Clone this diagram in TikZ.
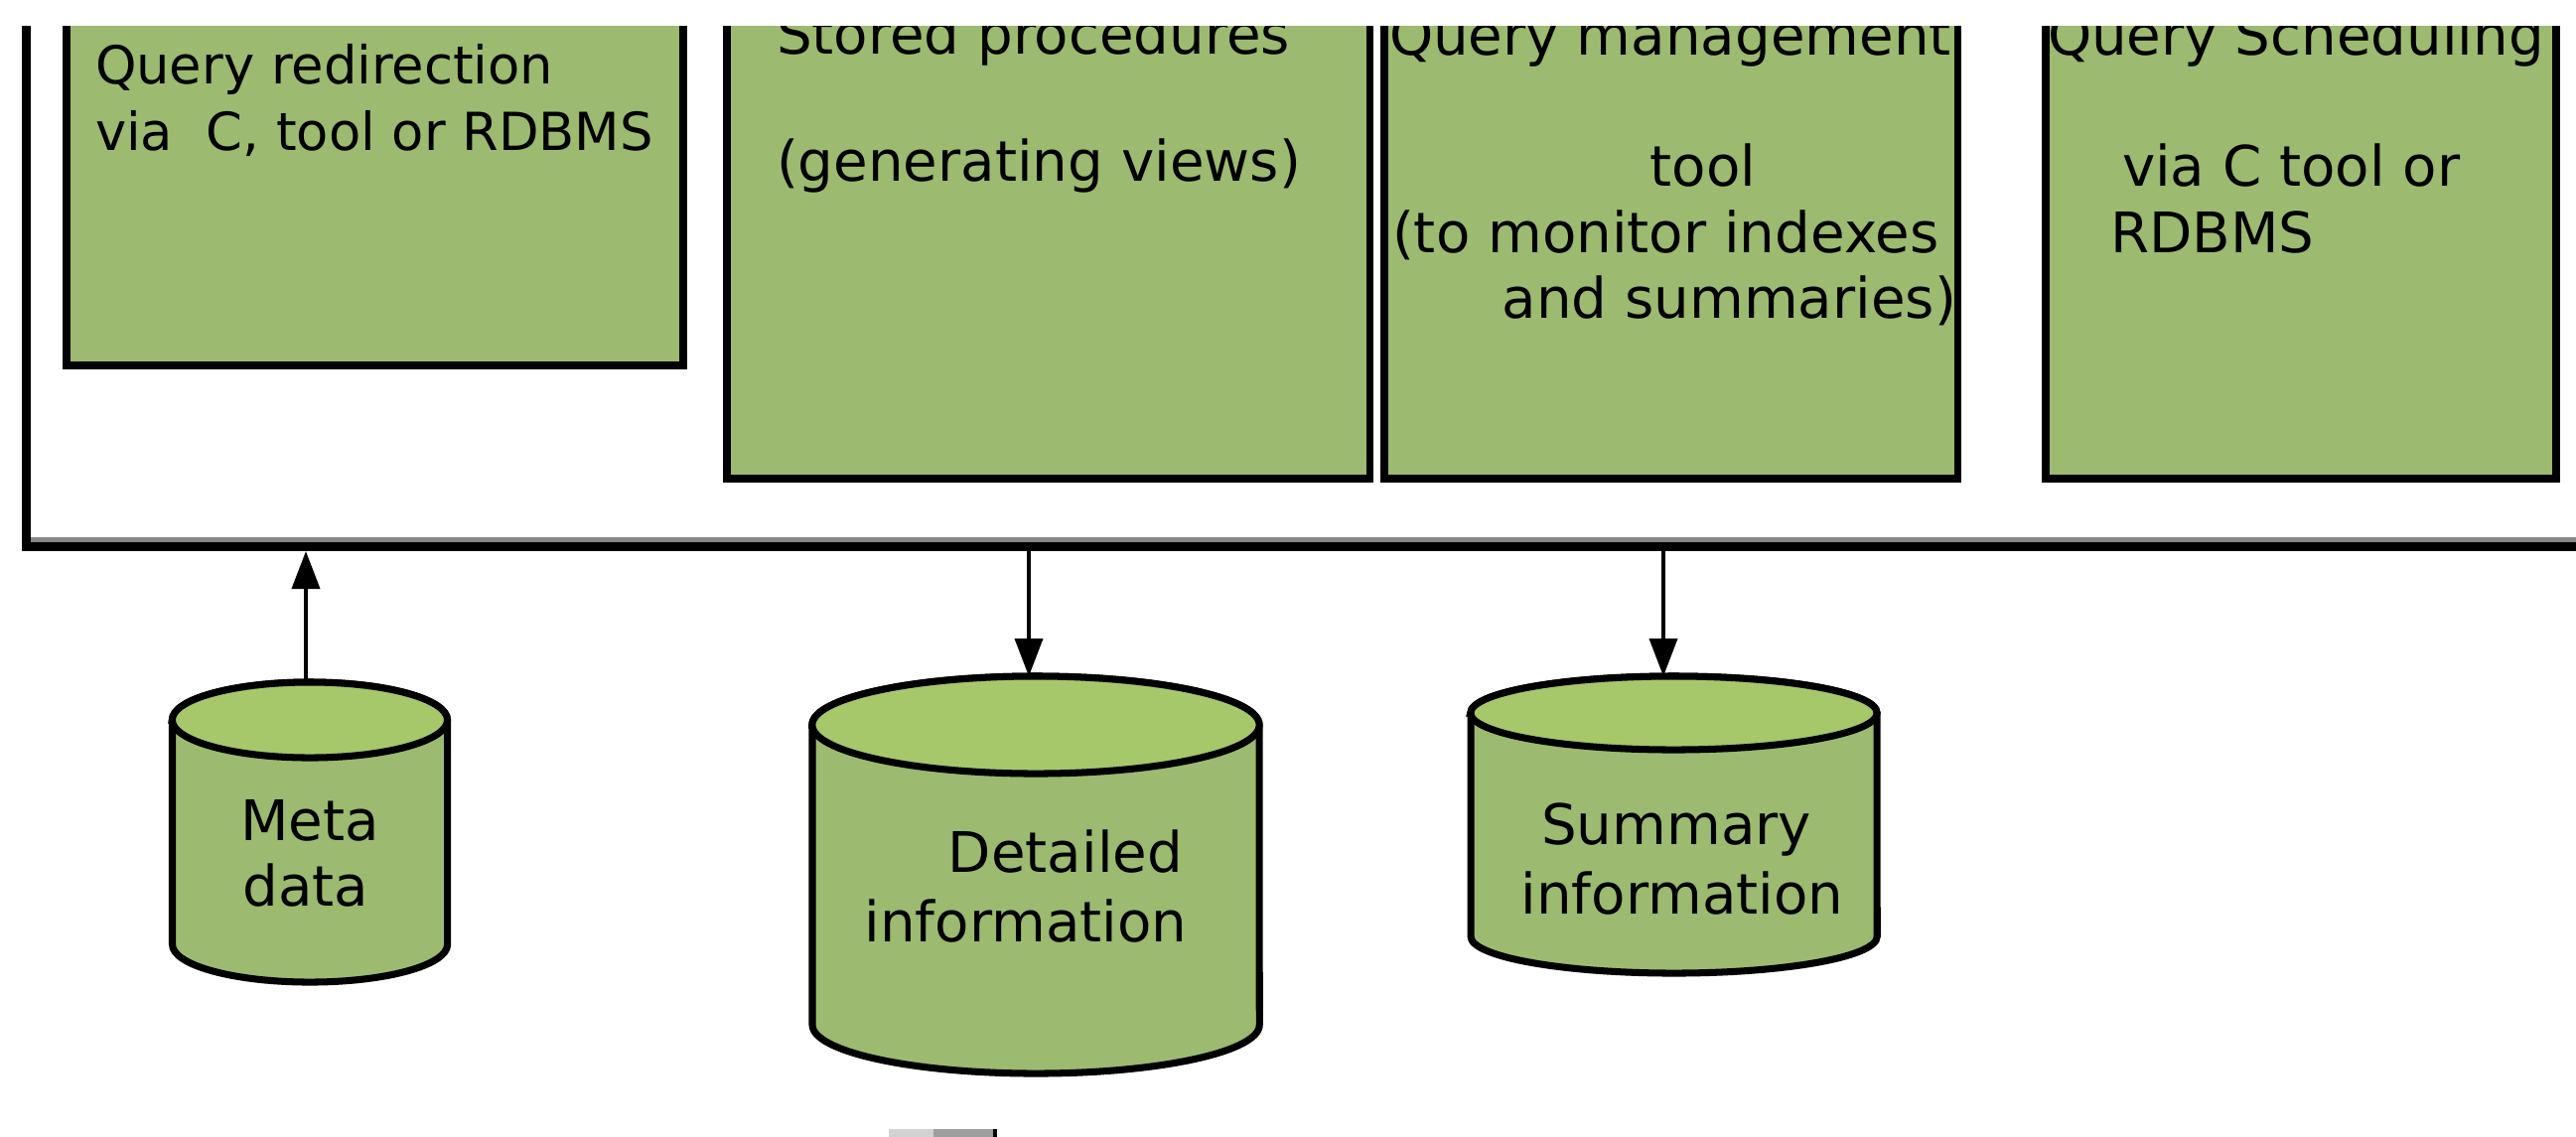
\documentclass[tikz,border=0pt]{standalone}
\usepackage{fontspec}
\setmainfont{DejaVu Sans}
\usetikzlibrary{arrows.meta}
\definecolor{boxgreen}{RGB}{156,186,112}
\definecolor{topgreen}{RGB}{166,199,106}
\definecolor{framegrey}{RGB}{135,135,135}
\begin{document}
\begin{tikzpicture}[x=0.01cm,y=-0.01cm,
  gbox/.style={draw=black, line width=2.1pt, fill=boxgreen, inner sep=0pt, outer sep=0pt},
  lbl/.style={inner sep=0pt, outer sep=0pt, font=\fontsize{16pt}{19pt}\selectfont, text=black},
  lblsmall/.style={lbl, font=\fontsize{15pt}{18pt}\selectfont},
  cylbody/.style={draw=black, line width=2pt, fill=boxgreen},
  cyltop/.style={draw=black, line width=2pt, fill=topgreen},
  arr/.style={line width=1.1pt, -{Triangle[length=3.8mm,width=2.8mm]}},
  framebk/.style={draw=black, line width=2.4pt, line join=miter},
  framegr/.style={draw=framegrey, line width=1.4pt}
]
\useasboundingbox (0,0) rectangle (2594,1144);
\fill[white] (0,0) rectangle (2594,1144);
\begin{scope}
\clip (0,26) rectangle (2594,1144);
% outer frame
\draw[framegr] (31,543.5) -- (2700,543.5);
\draw[framebk] (26.5,-60) -- (26.5,550.5) -- (2700,550.5);
% boxes
\node[gbox, minimum width=6.21cm, minimum height=4.08cm] (b1) at (377.5,164) {};
\node[gbox, minimum width=6.47cm, minimum height=5.22cm] (b2) at (1055.5,221) {};
\node[gbox, minimum width=5.77cm, minimum height=5.22cm] (b3) at (1682.5,221) {};
\node[gbox, minimum width=5.14cm, minimum height=5.22cm] (b4) at (2317,221) {};
% box texts
\node[lblsmall, anchor=base west] (q1) at (96,84) {Query redirection};
\node[lblsmall, anchor=base west] (q2) at (96,151) {via\ \ C, tool or RDBMS};
\node[lbl, anchor=base west] (s1) at (782,54) {Stored procedures};
\node[lbl, anchor=base west] (s2) at (782,182) {(generating views)};
\node[lbl, anchor=base west] (m1) at (1399,55) {Query management};
\node[lbl, anchor=base] (m2) at (1715,187) {tool};
\node[lbl, anchor=base west] (m3) at (1402,254) {(to monitor indexes};
\node[lbl, anchor=base east] (m4) at (1970,320) {and summaries)};
\node[lbl, anchor=base west] (c1) at (2062,55) {Query Scheduling};
\node[lbl, anchor=base west] (c2) at (2137,187) {via C tool or};
\node[lbl, anchor=base west] (c3) at (2125,254) {RDBMS};
% cylinders
\path[cylbody] (173.5,725) -- (173.5,951) arc[start angle=180,end angle=360,x radius=1.385cm,y radius=0.38cm] -- (450.5,725) arc[start angle=0,end angle=180,x radius=1.385cm,y radius=0.38cm] -- cycle;
\path[cyltop] (312,725) ellipse[x radius=1.385cm,y radius=0.38cm];
\path[cylbody] (818,730) -- (818,1032) arc[start angle=180,end angle=360,x radius=2.25cm,y radius=0.49cm] -- (1268,730) arc[start angle=0,end angle=180,x radius=2.25cm,y radius=0.49cm] -- cycle;
\path[cyltop] (1043,730) ellipse[x radius=2.25cm,y radius=0.49cm];
\path[cylbody] (1481,718) -- (1481,943) arc[start angle=180,end angle=360,x radius=2.045cm,y radius=0.37cm] -- (1890,718) arc[start angle=0,end angle=180,x radius=2.045cm,y radius=0.37cm] -- cycle;
\path[cyltop] (1685.5,718) ellipse[x radius=2.045cm,y radius=0.37cm];
\node[lbl, anchor=base] (md1) at (312,846) {Meta};
\node[lbl, anchor=base] (md2) at (308,912) {data};
\node[lbl, anchor=base] (di1) at (1073,878) {Detailed};
\node[lbl, anchor=base] (di2) at (1033,948) {information};
\node[lbl, anchor=base] (si1) at (1688,850) {Summary};
\node[lbl, anchor=base] (si2) at (1694,920) {information};
% connector ends
\coordinate (metatop) at (308,687);
\coordinate (metaframe) at (308,555);
\coordinate (detframe) at (1036,546);
\coordinate (dettop) at (1036,681);
\coordinate (sumframe) at (1675,546);
\coordinate (sumtop) at (1675,681);
\draw[arr] (metatop) -- (metaframe);
\draw[arr] (detframe) -- (dettop);
\draw[arr] (sumframe) -- (sumtop);
% partial shape at bottom edge
\fill[gray!35] (895,1137) rectangle (940,1150);
\fill[gray!75] (940,1137) rectangle (1000,1150);
\fill[black] (1000,1137) rectangle (1004,1150);
\end{scope}
\end{tikzpicture}
\end{document}
